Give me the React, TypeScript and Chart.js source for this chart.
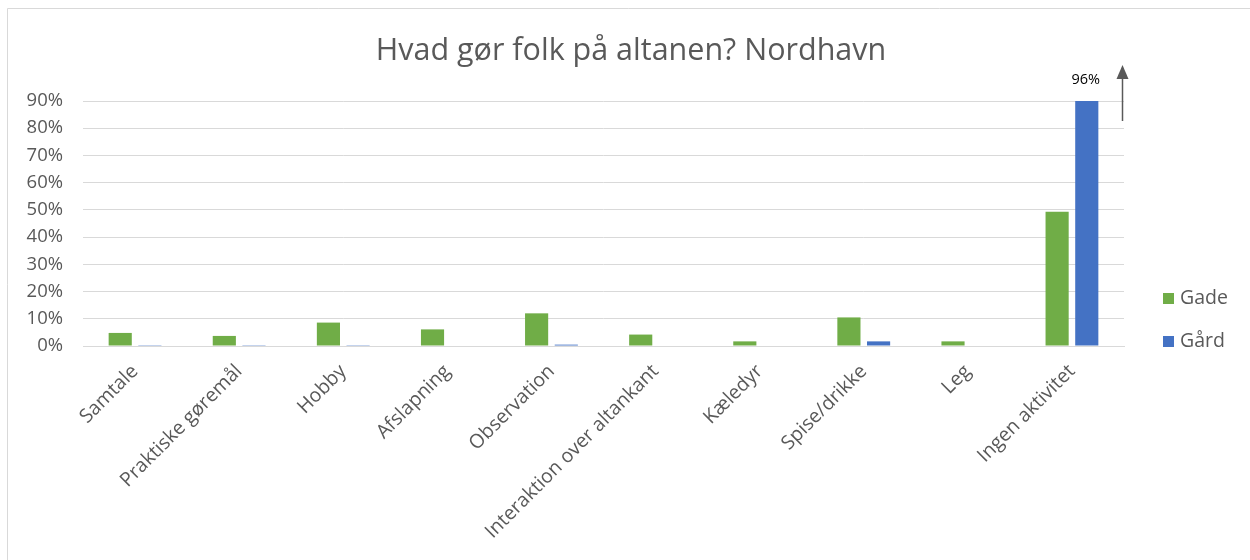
import { useEffect, useRef } from "react";
import { Chart, registerables } from "chart.js";

Chart.register(...registerables);

const categories = [
  "Samtale",
  "Praktiske gøremål",
  "Hobby",
  "Afslapning",
  "Observation",
  "Interaktion over altankant",
  "Kæledyr",
  "Spise/drikke",
  "Leg",
  "Ingen aktivitet",
];
const gadeValues = [4.8, 3.7, 8.6, 6.1, 12.0, 4.2, 1.7, 10.5, 1.7, 49.3];
const gaardValues = [0.3, 0.3, 0.3, 0, 0.5, 0, 0, 1.7, 0, 96];
const seriesNames = ["Gade", "Gård"];
const seriesColors = ["#70AD47", "#4472C4"];
const yMax = 90;
const yStep = 10;
const chartTitle = "Hvad gør folk på altanen? Nordhavn";
const calloutIndex = 9;

const FONT = '"Open Sans", sans-serif';
const GREY = "#595959";

const decorPlugin = {
  id: "decor",
  beforeDraw(chart: any) {
    const ctx = chart.ctx;
    ctx.save();
    ctx.fillStyle = "#ffffff";
    ctx.fillRect(0, 0, chart.width, chart.height);
    ctx.strokeStyle = "#d9d9d9";
    ctx.lineWidth = 1;
    ctx.beginPath();
    ctx.moveTo(7.5, chart.height);
    ctx.lineTo(7.5, 8.5);
    ctx.lineTo(chart.width, 8.5);
    ctx.stroke();
    ctx.restore();
  },
  afterDraw(chart: any) {
    const ctx = chart.ctx;
    const area = chart.chartArea;
    ctx.save();
    // title
    ctx.fillStyle = GREY;
    ctx.font = `30.5px ${FONT}`;
    ctx.textAlign = "center";
    ctx.textBaseline = "middle";
    ctx.fillText(chartTitle, 631, 51);

    // legend
    ctx.font = `19.5px ${FONT}`;
    ctx.textAlign = "left";
    const legendY = [298, 341];
    seriesNames.forEach((name, i) => {
      ctx.fillStyle = seriesColors[i];
      ctx.fillRect(1163, legendY[i] - 5, 11, 11);
      ctx.fillStyle = GREY;
      ctx.fillText(name, 1180, legendY[i]);
    });

    // callout for clipped bar
    const meta = chart.getDatasetMeta(1);
    const bar = meta.data[calloutIndex];
    ctx.fillStyle = "#000000";
    ctx.font = `14.5px ${FONT}`;
    ctx.textAlign = "center";
    ctx.fillText(`${gaardValues[calloutIndex]}%`, bar.x - 1, area.top - 21);

    // arrow
    const ax = area.right - 1.5;
    ctx.strokeStyle = GREY;
    ctx.fillStyle = GREY;
    ctx.lineWidth = 1.5;
    ctx.beginPath();
    ctx.moveTo(ax, area.top + 20);
    ctx.lineTo(ax, area.top - 24);
    ctx.stroke();
    ctx.beginPath();
    ctx.moveTo(ax, area.top - 36);
    ctx.lineTo(ax - 6, area.top - 22);
    ctx.lineTo(ax + 6, area.top - 22);
    ctx.closePath();
    ctx.fill();
    ctx.restore();
  },
};

export default function App() {
  const ref = useRef<HTMLCanvasElement | null>(null);
  useEffect(() => {
    if (!ref.current) return;
    const chart = new Chart(ref.current, {
      type: "bar",
      data: {
        labels: categories,
        datasets: [
          {
            label: seriesNames[0],
            data: gadeValues,
            backgroundColor: seriesColors[0],
            categoryPercentage: 0.57,
            barPercentage: 0.78,
          },
          {
            label: seriesNames[1],
            data: gaardValues,
            backgroundColor: seriesColors[1],
            categoryPercentage: 0.57,
            barPercentage: 0.78,
          },
        ],
      },
      options: {
        responsive: false,
        animation: false,
        layout: { padding: { left: 0, top: 101, right: 126, bottom: 0 } },
        plugins: {
          legend: { display: false },
          title: { display: false },
          tooltip: { enabled: false },
        },
        scales: {
          x: {
            grid: { display: false, drawTicks: false },
            border: { color: "#d9d9d9", width: 1 },
            ticks: {
              color: GREY,
              font: { family: FONT, size: 19.5 },
              minRotation: 45,
              maxRotation: 45,
              autoSkip: false,
              padding: 14,
            },
            afterFit(scale: any) {
              scale.height = 214;
            },
          },
          y: {
            min: 0,
            max: yMax,
            grid: { color: "#d9d9d9", drawTicks: false },
            border: { display: false },
            ticks: {
              stepSize: yStep,
              color: GREY,
              font: { family: FONT, size: 18.5 },
              padding: 20,
              callback: (v: any) => `${v}%`,
            },
            afterFit(scale: any) {
              scale.width = 83;
            },
          },
        },
      },
      plugins: [decorPlugin],
    });
    return () => chart.destroy();
  }, []);
  return (
    <div style={{ position: "absolute", left: 0, top: 0, width: 1250, height: 560 }}>
      <canvas ref={ref} width={1250} height={560} style={{ display: "block" }} />
    </div>
  );
}
